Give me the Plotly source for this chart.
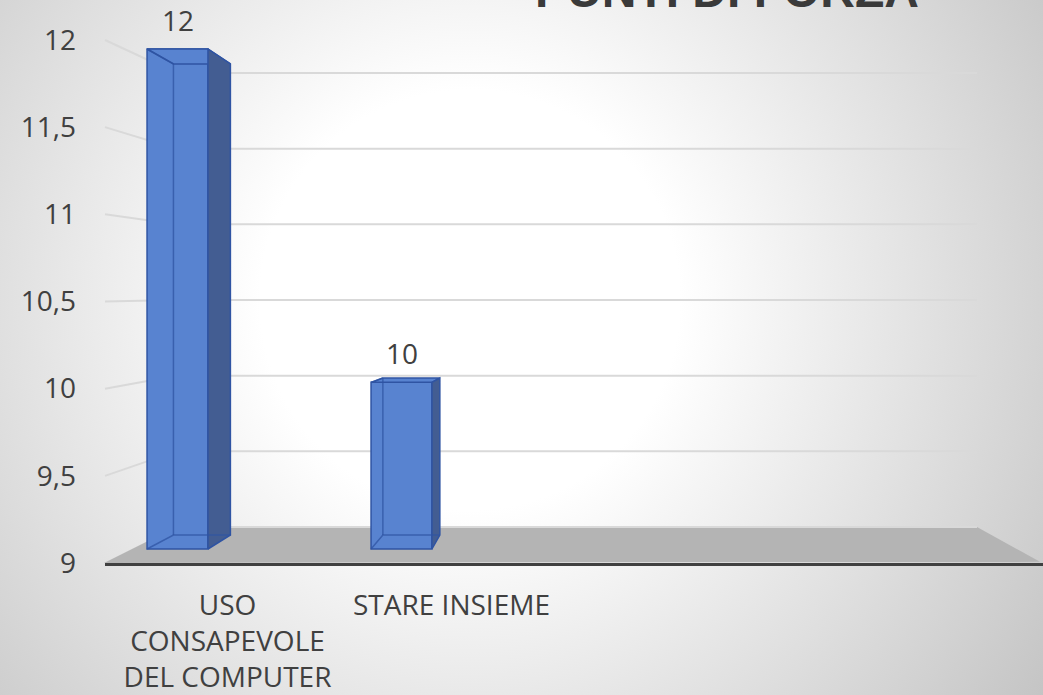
import base64
import plotly.graph_objects as go

# ---------------- data ----------------
categories = ["USO CONSAPEVOLE DEL COMPUTER", "STARE INSIEME"]
tick_labels = ["USO<br>CONSAPEVOLE<br>DEL COMPUTER", "STARE INSIEME"]
values = [12, 10]
y_ticks = [9, 9.5, 10, 10.5, 11, 11.5, 12]
title_text = "PUNTI DI FORZA"

# ---------------- geometry / style ----------------
W, H = 1043, 695
ML, MR, MT, MB = 105, 0, 0, 132
PW, PH = W - ML - MR, H - MT - MB
TXT = "#404040"
FONT = "Open Sans"


def rng(v0, p0, v1, p1, pmin, pmax):
    s = (p1 - p0) / (v1 - v0)
    return [v0 + (pmin - p0) / s, v0 + (pmax - p0) / s]


# x: category 0 front centre at px 177.5, 224 px per category
x_range = rng(0, 177.5 - ML, 1, 401.5 - ML, 0, PW)
# y (labels): 9 at 563, 12 at 40 (pixels from top)
y_range = rng(9, 0, 12, 563 - 40, 0, PH)
# y2 (front plane of bars): 9 at 549, 12 at 49
y2_range = rng(9, 563 - 549, 12, 563 - 49, 0, PH)

BASE = 9
HW = 0.136                # half width of bar front face (category units)
DXA, DXB = 0.935, 0.109   # perspective of back face in x
DYA, DYB = 0.942, 0.0842  # perspective of back face in y


def back(x, v):
    return DXB + DXA * x, BASE + DYB + DYA * (v - BASE)


def back_wall_paper(v):
    px = 527 - 151.33 * (v - 9)
    return (563 - px) / PH


def label_paper(v):
    return (v - y_range[0]) / (y_range[1] - y_range[0])


WALL_X0 = (176 - ML) / PW
WALL_X1 = (977 - ML) / PW

FRONT = "rgb(88,131,208)"
SIDE = "rgb(67,93,146)"
EDGE = "rgb(47,84,163)"

fig = go.Figure()

# invisible anchor trace so the labelled y axis is drawn
fig.add_trace(go.Scatter(x=[0], y=[9], mode="markers", marker=dict(opacity=0),
                         hoverinfo="skip", showlegend=False))

# front faces
xs = list(range(len(values)))
fig.add_trace(go.Bar(
    x=xs, y=[v - BASE for v in values], base=[BASE] * len(values),
    width=2 * HW, marker=dict(color=FRONT, line=dict(color=EDGE, width=1.5)),
    yaxis="y2", hoverinfo="skip", showlegend=False,
))

for i, v in zip(xs, values):
    fl, fr = (i - HW, BASE), (i + HW, BASE)
    ftl, ftr = (i - HW, v), (i + HW, v)
    bl, br = back(i - HW, BASE), back(i + HW, BASE)
    btl, btr = back(i - HW, v), back(i + HW, v)
    # top face
    poly = [ftl, ftr, btr, btl, ftl]
    fig.add_trace(go.Scatter(x=[p[0] for p in poly], y=[p[1] for p in poly],
                             fill="toself", fillcolor=FRONT, mode="lines",
                             line=dict(color=EDGE, width=1.5), yaxis="y2",
                             hoverinfo="skip", showlegend=False))
    # side face
    poly = [fr, ftr, btr, br, fr]
    fig.add_trace(go.Scatter(x=[p[0] for p in poly], y=[p[1] for p in poly],
                             fill="toself", fillcolor=SIDE, mode="lines",
                             line=dict(color=EDGE, width=1.5), yaxis="y2",
                             hoverinfo="skip", showlegend=False))
    # inner (see-through) edges
    segs = [fl, bl, br, None, bl, btl, None, ftl, btl]
    fig.add_trace(go.Scatter(x=[p[0] if p else None for p in segs],
                             y=[p[1] if p else None for p in segs],
                             mode="lines", line=dict(color="rgba(47,84,163,0.75)", width=1.5),
                             yaxis="y2", hoverinfo="skip", showlegend=False))

# data labels
annotations = []
for i, v in zip(xs, values):
    annotations.append(dict(x=i, y=v, xref="x", yref="y2", text=str(v), showarrow=False,
                            yanchor="bottom", yshift=8,
                            font=dict(family=FONT, size=28, color=TXT)))

annotations.append(dict(x=(727 - ML) / PW, y=(563 - 19) / PH, xref="paper", yref="paper",
                        text=title_text, showarrow=False, xanchor="center", yanchor="bottom",
                        font=dict(family="Liberation Sans", size=48, color="#3a3a3a", weight="bold")))

# shapes: floor, back wall grid, left wall grid
shapes = []
fx0, fx1 = (104 - ML) / PW, (1040 - ML) / PW
fy_back = back_wall_paper(9)
shapes.append(dict(type="path", xref="paper", yref="paper", layer="below",
                   path=f"M {fx0},0 L {WALL_X0},{fy_back} L {WALL_X1},{fy_back} L {fx1},0.002 Z",
                   fillcolor="#b4b4b4", line=dict(width=0)))
for v in y_ticks:
    yb = back_wall_paper(v)
    shapes.append(dict(type="line", xref="paper", yref="paper", layer="below",
                       x0=WALL_X0, x1=WALL_X1, y0=yb, y1=yb,
                       line=dict(color="#d9d9d9", width=2)))
    if v > 9:
        shapes.append(dict(type="line", xref="paper", yref="paper", layer="below",
                           x0=0, x1=WALL_X0, y0=label_paper(v), y1=yb,
                           line=dict(color="#d9d9d9", width=2)))

# background gradient
svg = (f'<svg xmlns="http://www.w3.org/2000/svg" width="{W}" height="{H}">'
       '<defs><radialGradient id="g" gradientUnits="userSpaceOnUse" cx="470" cy="300" r="700">'
       '<stop offset="0" stop-color="#ffffff"/><stop offset="0.3" stop-color="#ffffff"/>'
       '<stop offset="1" stop-color="#c4c4c4"/></radialGradient></defs>'
       f'<rect width="{W}" height="{H}" fill="url(#g)"/></svg>')
src = "data:image/svg+xml;base64," + base64.b64encode(svg.encode()).decode()

fig.update_layout(
    width=W, height=H,
    margin=dict(l=ML, r=MR, t=MT, b=MB, pad=0, autoexpand=False),
    paper_bgcolor="#d0d0d0", plot_bgcolor="rgba(0,0,0,0)",
    separators=",.",
    showlegend=False,
    font=dict(family=FONT, color=TXT),
    images=[dict(source=src, xref="paper", yref="paper", x=-ML / PW, y=1 + MT / PH,
                 sizex=W / PW, sizey=H / PH, xanchor="left", yanchor="top",
                 sizing="stretch", layer="below")],
    xaxis=dict(range=x_range, tickvals=xs, ticktext=tick_labels, showgrid=False,
               zeroline=False, showline=True, linecolor="#404040", linewidth=3,
               ticks="", ticklabelshift=50, ticklabelstandoff=15, automargin=False,
               tickfont=dict(family=FONT, size=28, color=TXT), fixedrange=True),
    yaxis=dict(range=y_range, tickvals=y_ticks, showgrid=False, zeroline=False,
               showline=False, ticks="", ticklabelstandoff=28, automargin=False,
               tickfont=dict(family=FONT, size=28, color=TXT), fixedrange=True),
    yaxis2=dict(range=y2_range, overlaying="y", visible=False, fixedrange=True,
                automargin=False),
    annotations=annotations,
    shapes=shapes,
)

fig.write_html("out.html", config={"displayModeBar": False},
               post_script="document.body.style.margin='0';document.body.style.overflow='hidden';")
